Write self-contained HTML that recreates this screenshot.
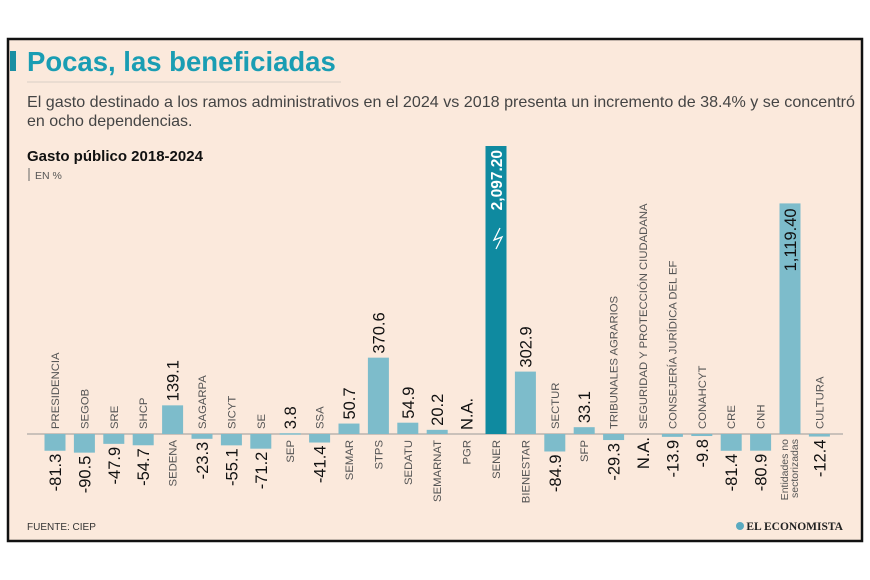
<!DOCTYPE html>
<html><head><meta charset="utf-8"><style>
body{margin:0;background:#fff;}
svg{display:block;font-family:"Liberation Sans",sans-serif;}
</style></head><body>
<svg width="870" height="580" viewBox="0 0 870 580">
<rect x="0" y="0" width="870" height="580" fill="#fff"/>
<rect x="8" y="39" width="854" height="502" fill="#fbe9dc" stroke="#111" stroke-width="2.5"/>
<rect x="10" y="51" width="6" height="20" fill="#1a8fa3"/>
<text x="27" y="71" font-size="27.5" font-weight="bold" fill="#1a9db3">Pocas, las beneficiadas</text>
<line x1="27" y1="82" x2="341" y2="82" stroke="#d8cfc6" stroke-width="1"/>
<text x="27" y="107" font-size="16" fill="#444" textLength="828" lengthAdjust="spacingAndGlyphs">El gasto destinado a los ramos administrativos en el 2024  vs 2018 presenta un incremento de 38.4% y se concentró</text>
<text x="27" y="126" font-size="16" fill="#444">en ocho dependencias.</text>
<text x="27" y="161" font-size="15" font-weight="bold" fill="#111">Gasto público 2018-2024</text>
<line x1="29" y1="168" x2="29" y2="181" stroke="#666" stroke-width="1"/>
<text x="35" y="179" font-size="10.5" fill="#555">EN %</text>
<line x1="27" y1="434" x2="843" y2="434" stroke="#999" stroke-width="1"/>
<g id="bars"></g>
<text x="27" y="530" font-size="10" fill="#333">FUENTE: CIEP</text>
<circle cx="740" cy="526" r="4" fill="#5aaac0"/>
<text x="843" y="530" font-size="11.5" font-weight="bold" text-anchor="end" fill="#222" font-family="Liberation Serif, serif">EL ECONOMISTA</text>
</svg>
<script>
const categories=["PRESIDENCIA","SEGOB","SRE","SHCP","SEDENA","SAGARPA","SICYT","SE","SEP","SSA","SEMAR","STPS","SEDATU","SEMARNAT","PGR","SENER","BIENESTAR","SECTUR","SFP","TRIBUNALES AGRARIOS","SEGURIDAD Y PROTECCIÓN CIUDADANA","CONSEJERÍA JURÍDICA DEL EF","CONAHCYT","CRE","CNH","Entidades no sectorizadas","CULTURA"];
const values=[-81.3,-90.5,-47.9,-54.7,139.1,-23.3,-55.1,-71.2,3.8,-41.4,50.7,370.6,54.9,20.2,null,2097.2,302.9,-84.9,33.1,-29.3,null,-13.9,-9.8,-81.4,-80.9,1119.4,-12.4];
const valueLabels=["-81.3","-90.5","-47.9","-54.7","139.1","-23.3","-55.1","-71.2","3.8","-41.4","50.7","370.6","54.9","20.2","N.A.","2,097.20","302.9","-84.9","33.1","-29.3","N.A.","-13.9","-9.8","-81.4","-80.9","1,119.40","-12.4"];
const naSide=[0,0,0,0,0,0,0,0,0,0,0,0,0,0,1,0,0,0,0,0,-1,0,0,0,0,0,0];
const NS="http://www.w3.org/2000/svg";
const g=document.getElementById('bars');
const zeroY=434,scale=0.206,maxH=288,bw=21;
function xCenter(i){return 55+i*29.4;}
function yScale(v){return zeroY-Math.max(-maxH,Math.min(maxH,v*scale));}
function mk(tag,attrs){const e=document.createElementNS(NS,tag);for(const k in attrs)e.setAttribute(k,attrs[k]);g.appendChild(e);return e;}
function rotText(x,y,txt,size,fill,anchor,weight){
  const t=mk('text',{x:0,y:0,'font-size':size,fill:fill,'text-anchor':anchor,transform:`translate(${x},${y}) rotate(-90)`});
  if(weight)t.setAttribute('font-weight',weight);
  t.textContent=txt;return t;}
categories.forEach((c,i)=>{
  const v=values[i];const cx=xCenter(i);
  const pos=v===null?naSide[i]>0:v>=0;
  if(v!==null){
    const y=yScale(v);const top=Math.min(y,zeroY),h=Math.abs(y-zeroY);
    const big=i===15;
    const r=mk('rect',{x:cx-bw/2,y:top,width:bw,height:Math.max(h,1.5),fill:big?'#0f8aa0':'#7dbccb'});
    
    
  }
  let vl;
  if(i===15){
    const y=yScale(v);
    vl=rotText(cx+6,y+4,valueLabels[i],15.5,'#fff','end','bold');
    const z=mk('path',{d:`M${cx+4} ${y+82} l-6 12 l8 -3 l-6 12`,stroke:'#fff','stroke-width':1.3,fill:'none'});
    
    
  } else if(i===25){
    vl=rotText(cx+6,yScale(v)+5,valueLabels[i],16.5,'#111','end');
  } else if(pos){
    const y=v===null?zeroY:yScale(v);
    vl=rotText(cx+6,y-4,valueLabels[i],16.5,'#111','start');
  } else {
    const y=v===null?zeroY:yScale(v);
    vl=rotText(cx+6,y+3,valueLabels[i],16.5,'#111','end');
  }
  
  
  let nl;
  if(i===25){
    nl=rotText(cx-2,zeroY+5,'Entidades no',10.5,'#555','end');
    const n2=rotText(cx+8,zeroY+5,'sectorizadas',10.5,'#555','end');
    
    
  } else if(pos){
    nl=rotText(cx+4,zeroY+6,c,11.3,'#555','end');
  } else {
    nl=rotText(cx+4,zeroY-5,c,11.3,'#555','start');
  }
  
  
});
</script>
</body></html>
